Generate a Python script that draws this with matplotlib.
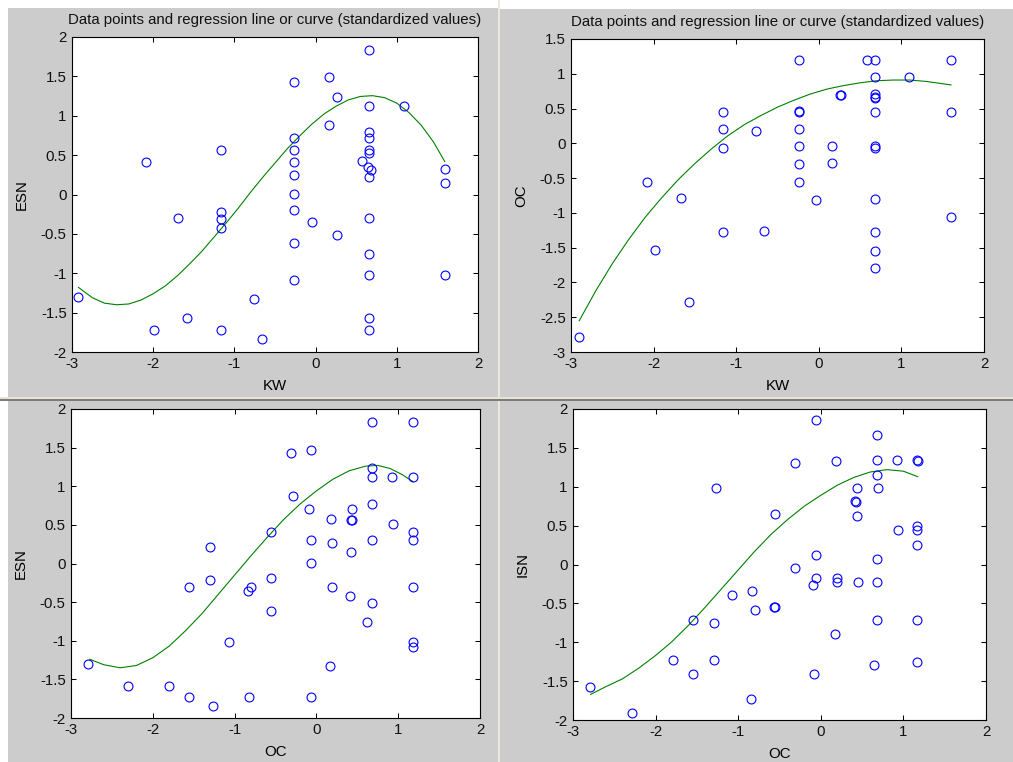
import matplotlib
matplotlib.use("Agg")
import matplotlib.pyplot as plt
from matplotlib.patches import Rectangle
from matplotlib.ticker import FixedLocator, FuncFormatter

W, H = 1013, 762
FS = 10.8
plt.rcParams['font.family'] = ['Liberation Sans', 'DejaVu Sans']
plt.rcParams['axes.unicode_minus'] = False
plt.rcParams['font.size'] = FS

TITLE = "Data points and regression line or curve (standardized values)"

# ---- panel 1: KW vs ESN ----
kw_a = [-2.92, -2.09, -1.99, -1.69, -1.58, -1.17, -1.17, -1.17, -1.17, -1.17, -0.76, -0.66,
        -0.26, -0.26, -0.26, -0.26, -0.26, -0.26, -0.26, -0.26, -0.26,
        -0.04, 0.16, 0.16, 0.26, 0.26, 0.57,
        0.66, 0.66, 0.66, 0.66, 0.66, 0.66, 0.65, 0.68, 0.66, 0.66, 0.66, 0.66, 0.66, 0.66,
        1.09, 1.59, 1.59, 1.59]
esn_a = [-1.30, 0.41, -1.72, -0.30, -1.57, 0.56, -0.22, -0.31, -0.43, -1.72, -1.33, -1.84,
         1.43, 0.72, 0.56, 0.41, 0.25, 0.01, -0.20, -0.62, -1.08,
         -0.35, 1.49, 0.88, 1.24, -0.51, 0.43,
         1.83, 1.12, 0.79, 0.72, 0.57, 0.53, 0.35, 0.31, 0.22, -0.30, -0.75, -1.02, -1.57, -1.72,
         1.12, 0.33, 0.15, -1.02]
fit_a_x = [-2.92, -2.75, -2.60, -2.45, -2.30, -2.15, -2.00, -1.85, -1.70, -1.55, -1.40,
           -1.25, -1.10, -0.95, -0.80, -0.65, -0.50, -0.35, -0.20, -0.05, 0.10, 0.25,
           0.40, 0.55, 0.70, 0.85, 1.00, 1.15, 1.30, 1.45, 1.59]
fit_a_y = [-1.18, -1.31, -1.38, -1.40, -1.39, -1.34, -1.26, -1.16, -1.03, -0.88, -0.72,
           -0.54, -0.36, -0.17, 0.03, 0.22, 0.40, 0.58, 0.74, 0.89, 1.02, 1.12,
           1.20, 1.245, 1.255, 1.23, 1.16, 1.04, 0.88, 0.67, 0.42]

# ---- panel 2: KW vs OC ----
kw_b = [-2.90, -2.08, -1.98, -1.67, -1.57,
        -1.16, -1.16, -1.16, -1.16, -0.76, -0.66,
        -0.24, -0.24, -0.24, -0.24, -0.24, -0.24, -0.24,
        -0.03, 0.16, 0.16, 0.26, 0.27, 0.58,
        0.68, 0.68, 0.68, 0.68, 0.68, 0.68, 0.68, 0.68, 0.68, 0.68, 0.68, 0.68,
        1.09, 1.60, 1.60, 1.60]
oc_b = [-2.78, -0.55, -1.53, -0.79, -2.28,
        0.45, 0.20, -0.06, -1.28, 0.18, -1.26,
        1.20, 0.47, 0.45, 0.20, -0.04, -0.29, -0.55,
        -0.82, -0.04, -0.28, 0.70, 0.69, 1.20,
        1.20, 0.95, 0.71, 0.67, 0.65, 0.45, -0.04, -0.07, -0.80, -1.28, -1.55, -1.79,
        0.95, 1.20, 0.45, -1.06]
fit_b_x = [-2.90, -2.70, -2.50, -2.30, -2.10, -1.90, -1.70, -1.50, -1.30, -1.10, -0.90,
           -0.70, -0.50, -0.30, -0.10, 0.10, 0.30, 0.50, 0.70, 0.90, 1.10, 1.30, 1.45, 1.60]
fit_b_y = [-2.55, -2.12, -1.73, -1.38, -1.06, -0.78, -0.52, -0.29, -0.08, 0.11, 0.27,
           0.40, 0.52, 0.62, 0.71, 0.78, 0.83, 0.87, 0.90, 0.91, 0.91, 0.89, 0.865, 0.84]

# ---- panel 3: OC vs ESN ----
oc_c = [-2.79, -2.30, -1.80, -1.56, -1.56, -1.30, -1.30, -1.27, -1.07, -0.84, -0.80, -0.82,
        -0.55, -0.55, -0.56, -0.31, -0.29, -0.09, -0.07, -0.07, -0.07, -0.07,
        0.18, 0.19, 0.19, 0.17, 0.42, 0.44, 0.44, 0.42, 0.41,
        0.68, 0.68, 0.68, 0.68, 0.68, 0.68, 0.62, 0.92, 0.94,
        1.18, 1.18, 1.18, 1.18, 1.18, 1.18, 1.18]
esn_c = [-1.30, -1.58, -1.58, -0.31, -1.73, 0.21, -0.22, -1.84, -1.01, -0.35, -0.31, -1.73,
         0.41, -0.19, -0.62, 1.43, 0.88, 0.71, 1.47, 0.31, 0.01, -1.73,
         0.57, 0.26, -0.31, -1.33, 0.56, 0.56, 0.71, 0.15, -0.42,
         1.83, 1.24, 1.12, 0.77, 0.31, -0.51, -0.76, 1.12, 0.51,
         1.83, 1.12, 0.41, 0.31, -0.31, -1.01, -1.08]
fit_c_x = [-2.77, -2.60, -2.40, -2.20, -2.00, -1.80, -1.60, -1.40, -1.20, -1.00, -0.80,
           -0.60, -0.40, -0.20, 0.00, 0.20, 0.40, 0.60, 0.75, 0.90, 1.05, 1.18]
fit_c_y = [-1.24, -1.31, -1.35, -1.32, -1.22, -1.07, -0.87, -0.65, -0.40, -0.15, 0.10,
           0.34, 0.57, 0.77, 0.94, 1.09, 1.20, 1.26, 1.27, 1.23, 1.15, 1.06]

# ---- panel 4: OC vs ISN ----
oc_d = [-2.79, -2.29, -1.79, -1.55, -1.55, -1.27, -1.29, -1.29, -1.07, -0.83, -0.80, -0.84,
        -0.56, -0.57, -0.55, -0.31, -0.31, -0.06, -0.06, -0.06, -0.09, -0.08,
        0.18, 0.20, 0.20, 0.17, 0.42, 0.43, 0.44, 0.44, 0.45,
        0.68, 0.68, 0.68, 0.68, 0.68, 0.68, 0.69, 0.64, 0.92, 0.93,
        1.17, 1.18, 1.17, 1.17, 1.17, 1.17, 1.17]
isn_d = [-1.58, -1.91, -1.23, -0.72, -1.41, 0.98, -0.75, -1.23, -0.39, -0.34, -0.58, -1.73,
         0.65, -0.55, -0.55, 1.31, -0.05, 1.86, 0.12, -0.18, -0.26, -1.41,
         1.33, -0.18, -0.23, -0.90, 0.82, 0.80, 0.98, 0.63, -0.23,
         1.67, 1.34, 1.15, 0.07, -0.23, -0.72, 0.98, -1.29, 1.34, 0.45,
         1.34, 1.33, 0.49, 0.45, 0.25, -0.72, -1.26]
fit_d_x = [-2.786, -2.60, -2.40, -2.20, -2.00, -1.80, -1.60, -1.40, -1.20, -1.00, -0.80,
           -0.60, -0.40, -0.20, 0.00, 0.20, 0.40, 0.60, 0.80, 1.00, 1.173]
fit_d_y = [-1.67, -1.57, -1.47, -1.33, -1.17, -0.99, -0.78, -0.55, -0.31, -0.07, 0.17,
           0.39, 0.58, 0.75, 0.89, 1.02, 1.12, 1.19, 1.22, 1.20, 1.13]

x_ticks = [-3, -2, -1, 0, 1, 2]
y_ticks_esn = [-2, -1.5, -1, -0.5, 0, 0.5, 1, 1.5, 2]
y_ticks_oc = [-3, -2.5, -2, -1.5, -1, -0.5, 0, 0.5, 1, 1.5]

fig = plt.figure(figsize=(W / 100, H / 100), dpi=100, facecolor='white')


def px_rect(x0, y0, x1, y1, color):
    fig.add_artist(Rectangle((x0 / W, 1 - y1 / H), (x1 - x0) / W, (y1 - y0) / H,
                             transform=fig.transFigure, facecolor=color,
                             edgecolor='none', zorder=0))


GRAY = '#cccccc'
# window backgrounds
px_rect(8, 8, 497.5, 397, GRAY)
px_rect(500, 9, W, 397, GRAY)
px_rect(8, 401, 497.5, H, GRAY)
px_rect(500, 401, W, H, GRAY)
# window borders
px_rect(497.5, 0, 500, H, '#ece8dc')
px_rect(0, 397, W, 398.5, '#e6e2d6')
px_rect(0, 398.5, W, 400.8, '#7c7c7c')

fmt = FuncFormatter(lambda v, p: '%g' % v)


def panel(box, xs, ys, fx, fy, xlabel, ylabel, ylim, yticks, title=None):
    x0, y0, x1, y1 = box
    ax = fig.add_axes([x0 / W, 1 - y1 / H, (x1 - x0) / W, (y1 - y0) / H])
    ax.set_facecolor('white')
    ax.plot(fx, fy, color=(0.0, 0.5, 0.0), lw=0.8, zorder=2)
    ax.plot(xs, ys, linestyle='none', marker='o', markersize=6.4,
            markerfacecolor='none', markeredgecolor='#0000ff',
            markeredgewidth=0.8, zorder=3)
    ax.set_xlim(-3, 2)
    ax.set_ylim(*ylim)
    ax.xaxis.set_major_locator(FixedLocator(x_ticks))
    ax.yaxis.set_major_locator(FixedLocator(yticks))
    ax.xaxis.set_major_formatter(fmt)
    ax.yaxis.set_major_formatter(fmt)
    ax.tick_params(direction='in', length=3.8, width=0.75, top=True, right=True,
                   pad=3.8, labelsize=FS, colors='black', labelcolor='#111111')
    for s in ax.spines.values():
        s.set_linewidth(0.8)
        s.set_color('black')
    w = x1 - x0
    h = y1 - y0
    ax.set_xlabel(xlabel, fontsize=FS)
    ax.xaxis.set_label_coords(0.5, -34 / h)
    ax.xaxis.label.set_va('center')
    ax.set_ylabel(ylabel, fontsize=FS)
    ax.yaxis.set_label_coords(-50 / w, 0.5)
    ax.yaxis.label.set_va('center')
    if title:
        ax.text(0.5, 1 + 17 / h, title, transform=ax.transAxes, ha='center',
                va='center', fontsize=FS, color='#111111')
    return ax


panel((72, 37, 478, 352), kw_a, esn_a, fit_a_x, fit_a_y, 'KW', 'ESN',
      (-2, 2), y_ticks_esn, TITLE)
panel((571, 39, 984, 352), kw_b, oc_b, fit_b_x, fit_b_y, 'KW', 'OC',
      (-3, 1.5), y_ticks_oc, TITLE)
panel((71, 409, 480, 718), oc_c, esn_c, fit_c_x, fit_c_y, 'OC', 'ESN',
      (-2, 2), y_ticks_esn)
panel((573, 409, 986, 720), oc_d, isn_d, fit_d_x, fit_d_y, 'OC', 'ISN',
      (-2, 2), y_ticks_esn)

fig.savefig('out.png', dpi=100, facecolor='white')
